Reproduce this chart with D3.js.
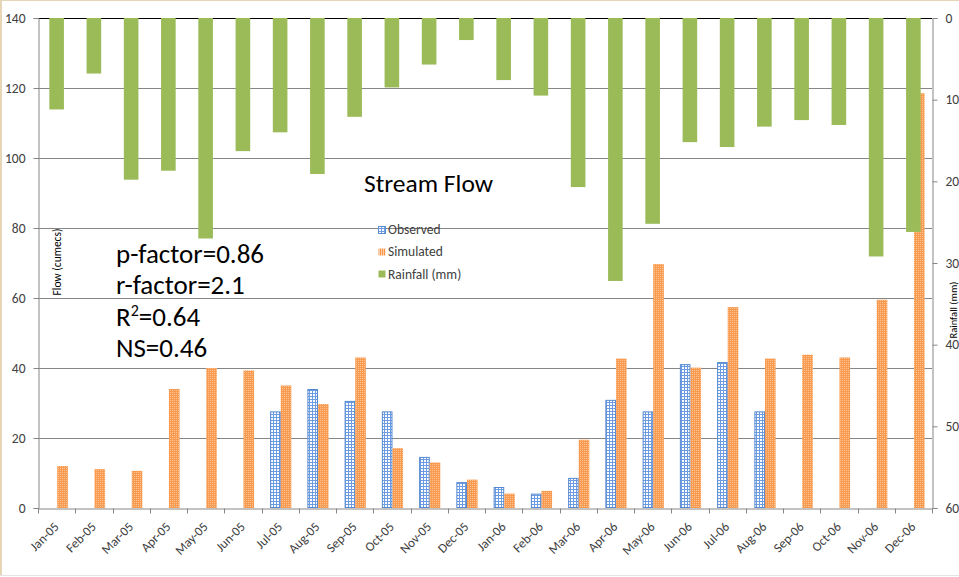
<!DOCTYPE html>
<html>
<head>
<meta charset="utf-8">
<script src="https://cdn.jsdelivr.net/npm/d3@7"></script>
<style>
  html, body { margin: 0; padding: 0; background: #fff; }
  svg { display: block; }
  text { font-family: Carlito, Lato, "Open Sans", sans-serif; }
</style>
</head>
<body>
<svg id="chart" width="959" height="577"></svg>
<script>
// Monthly stream flow (cumecs) and rainfall (mm), 2005-2006
const months = ["Jan-05","Feb-05","Mar-05","Apr-05","May-05","Jun-05","Jul-05","Aug-05","Sep-05","Oct-05","Nov-05","Dec-05",
                "Jan-06","Feb-06","Mar-06","Apr-06","May-06","Jun-06","Jul-06","Aug-06","Sep-06","Oct-06","Nov-06","Dec-06"];
const observed  = [null, null, null, null, null, null, 27.6, 34.0, 30.6, 27.6, 14.6, 7.4,
                   6.0, 4.1, 8.6, 30.9, 27.6, 41.1, 41.7, 27.6, null, null, null, null];
const simulated = [12.0, 11.1, 10.6, 34.0, 40.0, 39.3, 35.0, 29.7, 43.0, 17.1, 13.0, 8.1,
                   4.1, 4.9, 19.5, 42.7, 69.7, 40.1, 57.4, 42.7, 43.8, 43.0, 59.5, 118.5];
const rainfall  = [11.2, 6.8, 19.8, 18.7, 27.0, 16.3, 14.0, 19.1, 12.1, 8.5, 5.7, 2.7,
                   7.6, 9.5, 20.7, 32.2, 25.2, 15.2, 15.8, 13.3, 12.5, 13.1, 29.2, 26.2];
const flowTicks = [0, 20, 40, 60, 80, 100, 120, 140];
const rainTicks = [0, 10, 20, 30, 40, 50, 60];
const stats = [["p-factor=0.86"], ["r-factor=2.1"], ["R", "2", "=0.64"], ["NS=0.46"]];
const legendItems = ["Observed", "Simulated", "Rainfall (mm)"];

const svg = d3.select("#chart");
const L = 38, R = 932, T = 18, B = 508;

const x = d3.scaleBand().domain(months).range([L, R]).padding(0);
const yFlow = d3.scaleLinear().domain([0, 140]).range([B, T]);
const yRain = d3.scaleLinear().domain([0, 60]).range([T, B]);

const axisColor = "#868686";
const labelColor = "#404040";

// outer frame
svg.append("rect").attr("x", 0).attr("y", 0).attr("width", 959).attr("height", 577).attr("fill", "#fff");
svg.append("rect").attr("x", 0).attr("y", 0).attr("width", 2).attr("height", 576).attr("fill", "#e6d6b6");
svg.append("rect").attr("x", 0).attr("y", 0).attr("width", 959).attr("height", 1).attr("fill", "#e6d6b6");
svg.append("rect").attr("x", 0).attr("y", 575).attr("width", 959).attr("height", 1).attr("fill", "#e4e4e4");

// fill patterns
const defs = svg.append("defs");
const pObs = defs.append("pattern").attr("id", "obsGrid").attr("patternUnits", "userSpaceOnUse")
  .attr("width", 3).attr("height", 3);
pObs.append("rect").attr("width", 3).attr("height", 3).attr("fill", "#ffffff");
pObs.append("rect").attr("width", 1).attr("height", 3).attr("fill", "#6b9be0");
pObs.append("rect").attr("width", 3).attr("height", 1).attr("fill", "#6b9be0");

const pSim = defs.append("pattern").attr("id", "simDots").attr("patternUnits", "userSpaceOnUse")
  .attr("width", 2).attr("height", 2);
pSim.append("rect").attr("width", 2).attr("height", 2).attr("fill", "#f89a50");
pSim.append("rect").attr("width", 1).attr("height", 1).attr("fill", "#fcc493");

const pSimIcon = defs.append("pattern").attr("id", "simStripes").attr("patternUnits", "userSpaceOnUse")
  .attr("width", 2).attr("height", 2);
pSimIcon.append("rect").attr("width", 2).attr("height", 2).attr("fill", "#fbd0aa");
pSimIcon.append("rect").attr("width", 1).attr("height", 2).attr("fill", "#f7964a");

// gridlines
svg.append("g").selectAll("line").data(flowTicks.filter(d => d > 0 && d < 140)).join("line")
  .attr("x1", L).attr("x2", R)
  .attr("y1", d => Math.round(yFlow(d)) + 0.5).attr("y2", d => Math.round(yFlow(d)) + 0.5)
  .attr("stroke", axisColor).attr("stroke-width", 1);
svg.append("line").attr("x1", L).attr("x2", R).attr("y1", T + 0.5).attr("y2", T + 0.5)
  .attr("stroke", "#000").attr("stroke-width", 1);

// flow bars
const barW = 10.6;
svg.append("g").selectAll("rect").data(months.map((m, i) => ({ m, v: observed[i] })).filter(d => d.v != null)).join("rect")
  .attr("x", d => x(d.m) + x.bandwidth() / 2 - 10 + 0.5)
  .attr("y", d => yFlow(d.v) + 0.5)
  .attr("width", barW - 1)
  .attr("height", d => yFlow(0) - yFlow(d.v) - 1)
  .attr("fill", "url(#obsGrid)")
  .attr("stroke", "#5588d0").attr("stroke-width", 1);

svg.append("g").selectAll("rect").data(months.map((m, i) => ({ m, v: simulated[i] }))).join("rect")
  .attr("x", d => x(d.m) + x.bandwidth() / 2 + 0.6)
  .attr("y", d => yFlow(d.v))
  .attr("width", barW)
  .attr("height", d => yFlow(0) - yFlow(d.v))
  .attr("fill", "url(#simDots)");

// rainfall bars hang from the top on the secondary axis
const rainW = 14.6;
svg.append("g").selectAll("rect").data(months.map((m, i) => ({ m, v: rainfall[i] }))).join("rect")
  .attr("x", d => x(d.m) + x.bandwidth() / 2 - rainW / 2)
  .attr("y", yRain(0))
  .attr("width", rainW)
  .attr("height", d => yRain(d.v) - yRain(0))
  .attr("fill", "#9bbb59");

// left axis
const gLeft = svg.append("g").attr("transform", `translate(${L + 0.5},0)`)
  .call(d3.axisLeft(yFlow).tickValues(flowTicks).tickSize(5).tickPadding(8));
// right axis
const gRight = svg.append("g").attr("transform", `translate(${R + 0.5},0)`)
  .call(d3.axisRight(yRain).tickValues(rainTicks).tickSize(5).tickPadding(8));
// bottom axis: labels at category centres, ticks at category boundaries
const gBottom = svg.append("g").attr("transform", `translate(0,${B + 0.5})`)
  .call(d3.axisBottom(x).tickSize(0).tickPadding(0));
gBottom.selectAll(".tick text")
  .attr("text-anchor", "end")
  .attr("dy", null).attr("y", null)
  .attr("transform", "translate(3,19) rotate(-45)");
const bounds = months.map(m => x(m)).concat([R]);
gBottom.append("g").selectAll("line").data(bounds).join("line")
  .attr("x1", d => Math.round(d) + 0.5).attr("x2", d => Math.round(d) + 0.5)
  .attr("y1", 0).attr("y2", 5).attr("stroke", axisColor);

[gLeft, gRight, gBottom].forEach(g => {
  g.select(".domain").attr("stroke", axisColor);
  g.selectAll(".tick line").attr("stroke", axisColor);
  g.selectAll(".tick text").attr("fill", labelColor).style("font-size", "13.5px")
    .style("font-family", "Carlito, Lato, 'Open Sans', sans-serif");
});
gBottom.selectAll(".tick text").style("font-size", "13px");

// axis titles
svg.append("text").attr("transform", "translate(61,262) rotate(-90)")
  .attr("text-anchor", "middle").attr("fill", "#000").style("font-size", "11.5px").text("Flow (cumecs)");
svg.append("text").attr("transform", "translate(957,310) rotate(-90)")
  .attr("text-anchor", "middle").attr("fill", "#000").style("font-size", "10.5px").text("Rainfall (mm)");

// title
svg.append("text").attr("x", 364).attr("y", 192).attr("fill", "#000")
  .style("font-size", "25.5px").text("Stream Flow");

// legend
const lg = svg.append("g");
const fills = ["url(#obsGrid)", "url(#simStripes)", "#9bbb59"];
legendItems.forEach((t, i) => {
  const cy = 229.5 + i * 22.3;
  lg.append("rect").attr("x", 378.5).attr("y", Math.round(cy - 4) + 0.5).attr("width", 7).attr("height", 7)
    .attr("fill", fills[i]).attr("stroke", i === 0 ? "#5b8fd8" : "none");
  lg.append("text").attr("x", 388).attr("y", cy + 4.5).attr("fill", labelColor)
    .style("font-size", "13.5px").text(t);
});

// fit statistics
const st = svg.append("g");
stats.forEach((parts, i) => {
  const t = st.append("text").attr("x", 116).attr("y", 263 + i * 31.3).attr("fill", "#000")
    .style("font-size", "27px");
  if (parts.length === 1) {
    t.text(parts[0]);
  } else {
    t.append("tspan").text(parts[0]);
    t.append("tspan").attr("dy", -10).style("font-size", "16px").text(parts[1]);
    t.append("tspan").attr("dy", 10).text(parts[2]);
  }
});
</script>
</body>
</html>
